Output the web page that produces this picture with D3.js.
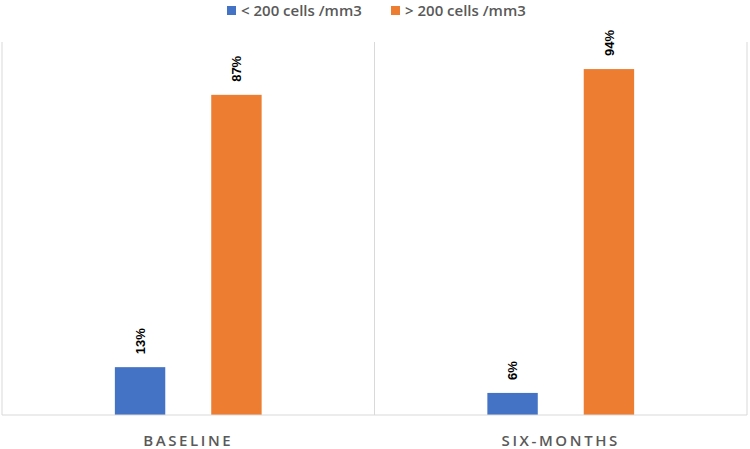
<!DOCTYPE html>
<html>
<head>
<meta charset="utf-8">
<script src="https://cdn.jsdelivr.net/npm/d3@7"></script>
<style>
  body { margin: 0; background: #fff; }
  svg { display: block; }
</style>
</head>
<body>
<svg id="chart" width="750" height="449"></svg>
<script>
// datos
let categories = ['BASELINE', 'SIX-MONTHS'];
let seriesNames = ['< 200 cells /mm3', '> 200 cells /mm3'];
let seriesColors = ['#4472C4', '#ED7D31'];
let lowCD4 = [13, 6];
let highCD4 = [87, 94];

let plotLeft = 2, plotRight = 747, plotBottom = 415, plotTop = 42;

let svg = d3.select('#chart');

let x0 = d3.scaleBand().domain(categories).range([plotLeft, plotRight]).padding(0);
let groupW = x0.bandwidth();
let x1 = d3.scaleBand().domain(seriesNames)
    .range([groupW * 0.303, groupW * 0.697])
    .paddingInner(0.477).paddingOuter(0);
let y = d3.scaleLinear().domain([0, 100]).range([plotBottom, 47]);

//Rejilla vertical
let edges = [plotLeft].concat(categories.map(c => x0(c) + groupW));
svg.append('g').selectAll('line')
    .data(edges)
    .enter()
    .append('line')
    .attr('x1', d => d).attr('x2', d => d)
    .attr('y1', plotTop).attr('y2', plotBottom)
    .attr('stroke', '#d9d9d9')
    .attr('stroke-width', 1);

// barras
let rows = categories.map((c, i) => ({cat: c, vals: [lowCD4[i], highCD4[i]]}));

let groups = svg.append('g').selectAll('g')
    .data(rows)
    .enter()
    .append('g')
    .attr('transform', d => 'translate(' + x0(d.cat) + ',0)');

groups.selectAll('rect')
    .data(d => d.vals.map((v, j) => ({name: seriesNames[j], v: v, j: j})))
    .enter()
    .append('rect')
    .attr('x', d => x1(d.name))
    .attr('width', x1.bandwidth())
    .attr('y', d => y(d.v))
    .attr('height', d => y(0) - y(d.v))
    .attr('fill', d => seriesColors[d.j]);

groups.selectAll('text.lbl')
    .data(d => d.vals.map((v, j) => ({name: seriesNames[j], v: v})))
    .enter()
    .append('text')
    .attr('class', 'lbl')
    .attr('transform', d => 'translate(' + (x1(d.name) + x1.bandwidth() / 2) + ',' + (y(d.v) - 13) + ') rotate(-90)')
    .attr('dy', '0.36em')
    .attr('font-family', '"Liberation Sans", Arial, sans-serif')
    .attr('font-weight', 'bold')
    .attr('font-size', 13)
    .attr('fill', '#000')
    .text(d => d.v + '%');

// eje x (linea base)
svg.append('line')
    .attr('x1', plotLeft).attr('x2', plotRight)
    .attr('y1', plotBottom).attr('y2', plotBottom)
    .attr('stroke', '#d9d9d9')
    .attr('stroke-width', 1);

svg.append('g').selectAll('text')
    .data(categories)
    .enter()
    .append('text')
    .attr('x', d => x0(d) + groupW / 2)
    .attr('y', 446)
    .attr('text-anchor', 'middle')
    .attr('font-family', '"Open Sans", sans-serif')
    .attr('font-size', 15)
    .attr('font-weight', 600)
    .attr('letter-spacing', 2.6)
    .attr('fill', '#595959')
    .text(d => d);

// leyenda
let legendX = [227, 391];
let legend = svg.append('g').selectAll('g')
    .data(seriesNames)
    .enter()
    .append('g')
    .attr('transform', (d, i) => 'translate(' + legendX[i] + ',0)');

legend.append('rect')
    .attr('x', 0).attr('y', 6)
    .attr('width', 9).attr('height', 9)
    .attr('fill', (d, i) => seriesColors[i]);

legend.append('text')
    .attr('x', 14)
    .attr('y', 16)
    .attr('font-family', '"Open Sans", sans-serif')
    .attr('font-size', 15)
    .attr('font-weight', 600)
    .attr('fill', '#595959')
    .text(d => d);
</script>
</body>
</html>
